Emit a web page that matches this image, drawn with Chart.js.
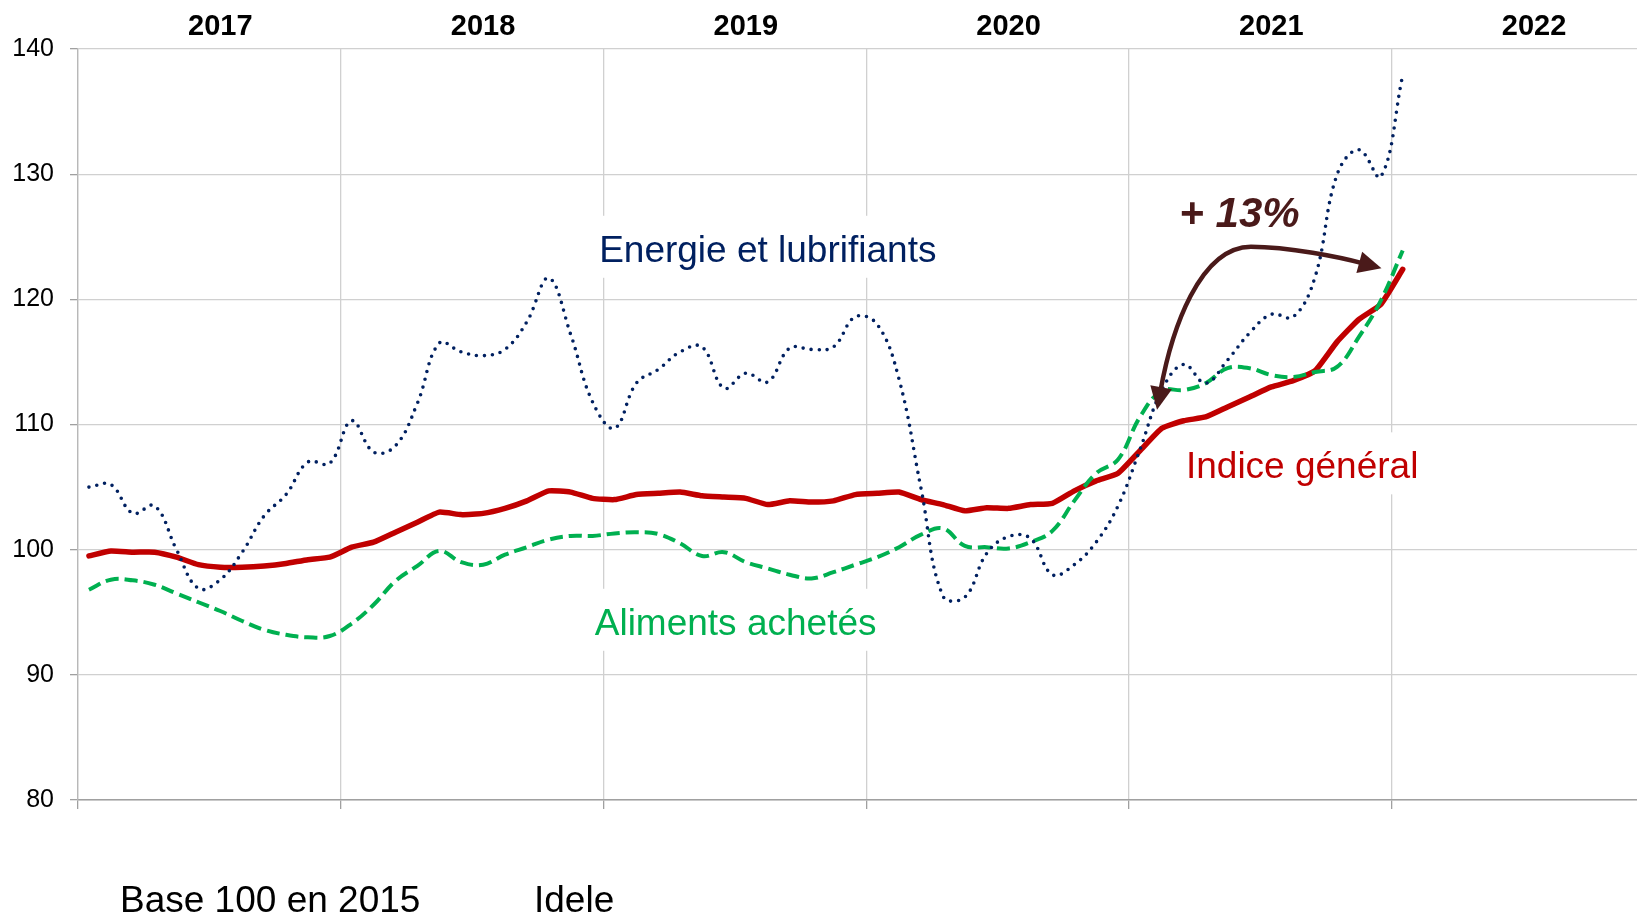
<!DOCTYPE html>
<html lang="fr">
<head>
<meta charset="utf-8">
<title>Indices des prix d'achat</title>
<script src="https://cdn.jsdelivr.net/npm/chart.js@4.4.1/dist/chart.umd.min.js"></script>
<style>
  html, body { margin: 0; padding: 0; background: #fff; }
  canvas { display: block; }
</style>
</head>
<body>
<canvas id="chart" width="1637" height="916"></canvas>
<script>
// year labels shown along the top
const years = ['2017', '2018', '2019', '2020', '2021', '2022'];

// monthly indices, base 100 en 2015, janv. 2017 -> janv. 2022
const indiceGeneral = [
  99.5, 99.9, 99.8, 99.8, 99.4, 98.8, 98.6, 98.6, 98.7, 98.9, 99.2, 99.4,
  100.2, 100.6, 101.4, 102.2, 103.0, 102.8, 102.9, 103.3, 103.9, 104.7, 104.6, 104.1,
  104.0, 104.4, 104.5, 104.6, 104.3, 104.2, 104.1, 103.6, 103.9, 103.8, 103.9, 104.4,
  104.5, 104.6, 104.0, 103.6, 103.1, 103.35, 103.3, 103.6, 103.7, 104.7, 105.5, 106.1,
  107.9, 109.7, 110.3, 110.6, 111.4, 112.2, 113.0, 113.5, 114.3, 116.6, 118.4, 119.6,
  122.4
];
const alimentsAchetes = [
  96.8, 97.6, 97.55, 97.2, 96.5, 95.8, 95.1, 94.3, 93.6, 93.2, 93.0, 93.1,
  94.1, 95.6, 97.5, 98.7, 99.9, 99.0, 98.8, 99.6, 100.2, 100.8, 101.1, 101.1,
  101.3, 101.4, 101.25, 100.5, 99.5, 99.8, 99.0, 98.5, 98.0, 97.7, 98.2, 98.8,
  99.4, 100.2, 101.2, 101.7, 100.3, 100.2, 100.1, 100.6, 101.5, 103.9, 106.1, 107.2,
  110.6, 112.7, 112.75, 113.3, 114.5, 114.5, 113.95, 113.8, 114.2, 114.6, 117.0, 119.9,
  123.9
];
const energieLubrifiants = [
  105.0, 105.2, 102.9, 103.5, 100.0, 96.9, 97.6, 99.8, 102.7, 104.4, 107.0, 106.9,
  110.3, 107.8, 108.3, 111.7, 116.5, 115.8, 115.5, 116.0, 118.2, 121.7, 117.2, 111.8,
  109.7, 113.3, 114.4, 115.8, 116.2, 112.9, 114.1, 113.4, 116.1, 116.0, 116.2, 118.6,
  118.0, 113.6, 104.9, 96.3, 96.2, 99.7, 101.05, 100.9, 98.0, 98.8, 100.6, 103.5,
  108.0, 112.75, 114.8, 113.3, 115.15, 117.3, 118.8, 118.6, 121.8, 129.95, 131.95, 129.8,
  137.9
];

const FONT = "'Liberation Sans', Arial, sans-serif";
Chart.defaults.font.family = FONT;

// one point per month, placed mid-month
const toPoints = arr => arr.map((v, i) => ({ x: i + 0.5, y: v }));

// series labels written inside the plot (data coordinates)
const seriesLabels = [
  { text: 'Energie et lubrifiants', x: 23.8, y: 123.0, color: '#002060' },
  { text: 'Aliments achetés', x: 23.6, y: 93.2, color: '#00B050' },
  { text: 'Indice général', x: 50.6, y: 105.7, color: '#C00000' }
];

// curved double arrow "+ 13%"
const arrowPath = {
  tipA: [49.28, 111.17], c1: [49.94, 117.56], c2: [51.22, 124.19], top: [53.57, 124.21],
  c3: [55.33, 124.19], c4: [57.61, 123.39], tipB: [59.53, 122.48]
};

const annotations = {
  id: 'annotations',
  beforeDatasetsDraw(chart) {
    const { ctx, scales: { x, y } } = chart;
    ctx.save();
    ctx.font = `37px ${FONT}`;
    ctx.textBaseline = 'alphabetic';
    seriesLabels.forEach(l => {
      const px = x.getPixelForValue(l.x), py = y.getPixelForValue(l.y);
      const w = ctx.measureText(l.text).width;
      ctx.fillStyle = '#fff';
      ctx.fillRect(px - 8, py - 46, w + 16, 62);
      ctx.fillStyle = l.color;
      ctx.fillText(l.text, px, py);
    });
    ctx.restore();
  },
  afterDatasetsDraw(chart) {
    const { ctx, scales: { x, y } } = chart;
    const p = k => [x.getPixelForValue(arrowPath[k][0]), y.getPixelForValue(arrowPath[k][1])];
    const A = p('tipA'), C1 = p('c1'), C2 = p('c2'), T = p('top'), C3 = p('c3'), C4 = p('c4'), B = p('tipB');
    const unit = (from, to) => {
      const dx = to[0] - from[0], dy = to[1] - from[1], n = Math.hypot(dx, dy);
      return [dx / n, dy / n];
    };
    const dA = unit(C1, A), dB = unit(C4, B);
    const L = 23, W = 11;
    const A2 = [A[0] - dA[0] * (L - 4), A[1] - dA[1] * (L - 4)];
    const B2 = [B[0] - dB[0] * (L - 4), B[1] - dB[1] * (L - 4)];
    const color = '#4A1A1A';
    ctx.save();
    ctx.strokeStyle = color;
    ctx.fillStyle = color;
    ctx.lineWidth = 4.5;
    ctx.beginPath();
    ctx.moveTo(A2[0], A2[1]);
    ctx.bezierCurveTo(C1[0], C1[1], C2[0], C2[1], T[0], T[1]);
    ctx.bezierCurveTo(C3[0], C3[1], C4[0], C4[1], B2[0], B2[1]);
    ctx.stroke();
    [[A, dA], [B, dB]].forEach(([tip, d]) => {
      const bx = tip[0] - d[0] * L, by = tip[1] - d[1] * L;
      ctx.beginPath();
      ctx.moveTo(tip[0], tip[1]);
      ctx.lineTo(bx - d[1] * W, by + d[0] * W);
      ctx.lineTo(bx + d[1] * W, by - d[0] * W);
      ctx.closePath();
      ctx.fill();
    });
    ctx.font = `italic bold 42px ${FONT}`;
    ctx.textBaseline = 'alphabetic';
    ctx.fillText('+ 13%', x.getPixelForValue(50.3), y.getPixelForValue(125.8));
    ctx.restore();
  },
  afterDraw(chart) {
    const { ctx } = chart;
    ctx.save();
    ctx.font = `37px ${FONT}`;
    ctx.fillStyle = '#000';
    ctx.textBaseline = 'alphabetic';
    ctx.fillText('Base 100 en 2015', 120, 912);
    ctx.fillText('Idele', 534, 912);
    ctx.restore();
  }
};

new Chart(document.getElementById('chart'), {
  type: 'line',
  data: {
    datasets: [
      {
        label: 'Energie et lubrifiants',
        data: toPoints(energieLubrifiants),
        borderColor: '#002060',
        borderWidth: 3.6,
        borderDash: [0, 8],
        borderCapStyle: 'round',
        tension: 0.4,
        pointRadius: 0
      },
      {
        label: 'Aliments achetés',
        data: toPoints(alimentsAchetes),
        borderColor: '#00B050',
        borderWidth: 4,
        borderDash: [13, 6],
        tension: 0.4,
        pointRadius: 0
      },
      {
        label: 'Indice général',
        data: toPoints(indiceGeneral),
        borderColor: '#C00000',
        borderWidth: 5.5,
        borderJoinStyle: 'round',
        borderCapStyle: 'round',
        tension: 0.15,
        pointRadius: 0
      }
    ]
  },
  options: {
    responsive: false,
    devicePixelRatio: 1,
    animation: false,
    layout: { padding: 0 },
    plugins: { legend: { display: false }, tooltip: { enabled: false } },
    scales: {
      x: {
        type: 'linear',
        position: 'bottom',
        min: 0,
        max: 71.2,
        afterBuildTicks: axis => { axis.ticks = years.slice(0, 6).map((_, i) => ({ value: i * 12 })); },
        afterFit: axis => { axis.height = 116; },
        ticks: { display: false },
        grid: { color: '#D0D0D0', lineWidth: 1.3, tickLength: 9, tickColor: '#A0A0A0' },
        border: { color: '#A0A0A0', width: 1.5 }
      },
      x2: {
        type: 'linear',
        position: 'top',
        min: 0,
        max: 71.2,
        afterBuildTicks: axis => { axis.ticks = years.map((_, i) => ({ value: i * 12 + 6.5 })); },
        afterFit: axis => { axis.height = 49; },
        ticks: {
          autoSkip: false,
          maxRotation: 0,
          padding: 5,
          color: '#000',
          font: { size: 29, weight: 'bold' },
          callback: (v, i) => years[i]
        },
        grid: { display: false, drawTicks: false },
        border: { display: false }
      },
      y: {
        min: 80,
        max: 140,
        afterFit: axis => { axis.width = 78; },
        ticks: { stepSize: 10, padding: 16, color: '#000', font: { size: 25 } },
        grid: { color: '#D0D0D0', lineWidth: 1.3, tickLength: 8, tickColor: '#A0A0A0' },
        border: { color: '#B8B8B8', width: 1.3 }
      }
    }
  },
  plugins: [annotations]
});
</script>
</body>
</html>
